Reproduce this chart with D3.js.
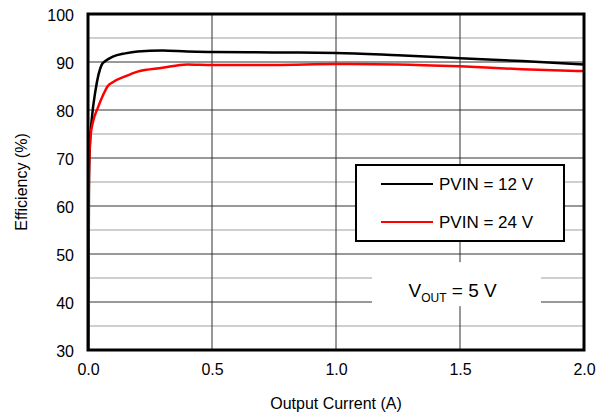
<!DOCTYPE html>
<html lang="en">
<head>
  <meta charset="UTF-8">
  <title>Efficiency</title>
  <script src="https://d3js.org/d3.v7.min.js"></script>
  <style>
    body, html { margin: 0; padding: 0; background: #fff; }
    text { font-family: "Liberation Sans", Arial, sans-serif; }
  </style>
</head>
<body>
  <svg width="608" height="415"></svg>
  <script>
    // PVIN = 12 V  [current A, efficiency %]
    let pvin12 = [[0.001, 30], [0.004, 66], [0.008, 73], [0.015, 78], [0.03, 84], [0.055, 89.4], [0.07, 90.2],
      [0.1, 91.1], [0.15, 91.8], [0.2, 92.2], [0.3, 92.4], [0.4, 92.2], [0.5, 92.1],
      [0.75, 92], [1.0, 91.9], [1.25, 91.4], [1.5, 90.8], [1.75, 90.2], [2.0, 89.5]];
    // PVIN = 24 V
    let pvin24 = [[0.001, 30], [0.003, 62], [0.006, 71], [0.01, 74.5], [0.02, 77.5], [0.04, 80.5], [0.06, 83],
      [0.08, 85], [0.1, 85.8], [0.15, 87], [0.2, 88], [0.3, 88.8], [0.4, 89.5], [0.5, 89.4],
      [0.75, 89.4], [1.0, 89.6], [1.25, 89.5], [1.5, 89.1], [1.75, 88.5], [2.0, 88.1]];
    let xTicks = [0, 0.5, 1.0, 1.5, 2.0];
    let yTicks = [30, 40, 50, 60, 70, 80, 90, 100];
    let yMinor = [35, 45, 55, 65, 75, 85, 95];
    let series = [
      { name: "PVIN = 12 V", values: pvin12, color: "#000000" },
      { name: "PVIN = 24 V", values: pvin24, color: "#ff0000" }
    ];

    let svg = d3.select("svg"),
      margin = { top: 14, right: 24, bottom: 65, left: 88 },
      w = 608 - margin.left - margin.right,
      h = 415 - margin.top - margin.bottom,
      g = svg.append("g").attr("transform", `translate(${margin.left},${margin.top})`);

    let x = d3.scaleLinear().domain([0, 2]).range([0, w]);
    let y = d3.scaleLinear().domain([30, 100]).range([h, 0]);

    // grid
    g.selectAll(".minor").data(yMinor).enter().append("line")
      .attr("x1", 0).attr("x2", w)
      .attr("y1", d => y(d)).attr("y2", d => y(d))
      .attr("stroke", "#bfbfbf").attr("stroke-width", 1.5);
    g.selectAll(".major").data(yTicks.slice(1, -1)).enter().append("line")
      .attr("x1", 0).attr("x2", w)
      .attr("y1", d => y(d)).attr("y2", d => y(d))
      .attr("stroke", "#333").attr("stroke-width", 1);
    g.selectAll(".vgrid").data(xTicks.slice(1, -1)).enter().append("line")
      .attr("x1", d => x(d)).attr("x2", d => x(d))
      .attr("y1", 0).attr("y2", h)
      .attr("stroke", "#333").attr("stroke-width", 1);

    // axes (labels only)
    let xAxis = d3.axisBottom(x).tickValues(xTicks).tickFormat(d3.format(".1f")).tickSize(0).tickPadding(14);
    let yAxis = d3.axisLeft(y).tickValues(yTicks).tickSize(0).tickPadding(14);
    let xg = g.append("g").attr("transform", `translate(0,${h})`).call(xAxis);
    let yg = g.append("g").call(yAxis);
    [xg, yg].forEach(a => {
      a.select(".domain").remove();
      a.selectAll("text").attr("font-size", 16).attr("fill", "#000")
        .attr("font-family", "Liberation Sans, Arial, sans-serif");
    });
    yg.selectAll("text").attr("dy", "0.4em");

    // Vout box
    g.append("rect")
      .attr("x", x(1.145)).attr("y", y(48.3))
      .attr("width", 169).attr("height", 44)
      .attr("fill", "#fff");
    let vout = g.append("text")
      .attr("x", x(1.47)).attr("y", y(41.0))
      .attr("text-anchor", "middle")
      .attr("font-size", 19).attr("fill", "#000");
    vout.append("tspan").text("V");
    vout.append("tspan").attr("font-size", 12).attr("dy", 5).text("OUT");
    vout.append("tspan").attr("dy", -5).text(" = 5 V");

    // curves
    let line = d3.line()
      .curve(d3.curveMonotoneX)
      .x(d => x(d[0]))
      .y(d => y(d[1]));
    g.selectAll(".curve").data(series).enter().append("path")
      .attr("d", d => line(d.values))
      .attr("fill", "none")
      .attr("stroke", d => d.color)
      .attr("stroke-width", 2.5);

    // legend
    let lg = g.append("g").attr("transform", `translate(${356 - margin.left},${165 - margin.top})`);
    lg.append("rect").attr("width", 208).attr("height", 76)
      .attr("fill", "#fff").attr("stroke", "#000").attr("stroke-width", 2);
    let item = lg.selectAll(".item").data(series).enter().append("g")
      .attr("transform", (d, i) => `translate(0,${19 + i * 38})`);
    item.append("line").attr("x1", 25).attr("x2", 77)
      .attr("stroke", d => d.color).attr("stroke-width", 2);
    item.append("text").attr("x", 83).attr("dy", "0.36em")
      .attr("font-size", 17).attr("fill", "#000").text(d => d.name);

    // frame
    g.append("rect").attr("width", w).attr("height", h)
      .attr("fill", "none").attr("stroke", "#000").attr("stroke-width", 3);

    // axis titles
    svg.append("text")
      .attr("x", margin.left + w / 2).attr("y", 409)
      .attr("text-anchor", "middle").attr("font-size", 16).text("Output Current (A)");
    svg.append("text")
      .attr("transform", `translate(27,${margin.top + h / 2}) rotate(-90)`)
      .attr("text-anchor", "middle").attr("font-size", 16).text("Efficiency (%)");
  </script>
</body>
</html>
